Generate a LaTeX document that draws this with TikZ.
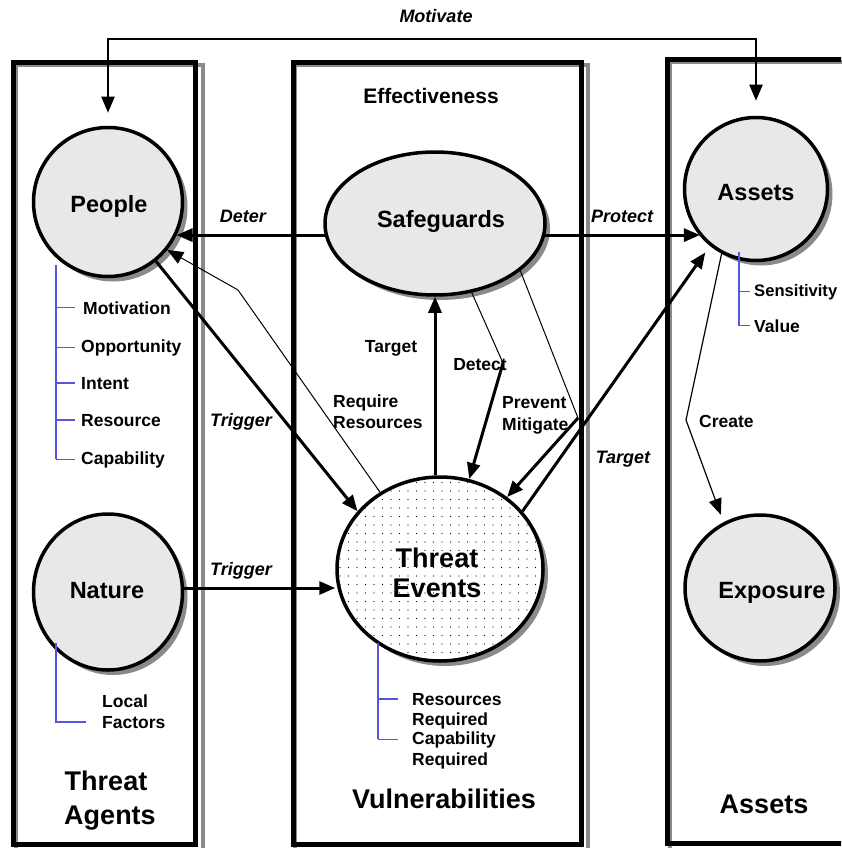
\documentclass[tikz,border=0pt]{standalone}
\usepackage{fontspec}
\setmainfont{Liberation Sans}
\usetikzlibrary{arrows.meta,shapes.geometric,shadows,patterns.meta,backgrounds}
\definecolor{ballgray}{HTML}{E8E8E8}
\definecolor{treeblue}{HTML}{5555E0}
\definecolor{shadegray}{HTML}{8A8A8A}
\begin{document}
\begin{tikzpicture}[x=1pt,y=-1pt,
  colbox/.style={draw=black, line width=5pt, inner sep=0pt},
  boxshade/.style={draw=shadegray, line width=4pt},
  ball/.style={ellipse, draw=black, line width=3.5pt, fill=ballgray, inner sep=0pt,
     drop shadow={shadow xshift=5pt, shadow yshift=-5pt, opacity=1, fill=shadegray}},
  dotball/.style={ellipse, draw=black, line width=3.5pt, fill=white, inner sep=0pt,
     drop shadow={shadow xshift=5pt, shadow yshift=-5pt, opacity=1, fill=shadegray},
     postaction={pattern={Dots[distance=8.5pt,radius=0.6pt]}, pattern color=black}},
  nlab/.style={font=\bfseries\fontsize{23.5}{28}\selectfont, inner sep=0pt, anchor=base},
  blab/.style={font=\bfseries\fontsize{27}{32}\selectfont, inner sep=0pt, anchor=base},
  lab/.style={font=\bfseries\fontsize{17.5}{21}\selectfont, inner sep=0pt},
  ilab/.style={font=\bfseries\itshape\fontsize{18}{21}\selectfont, inner sep=0pt, anchor=base},
  arr/.style={-{Triangle[length=16pt,width=13pt]}},
  heavy/.style={line width=3pt},
  medium/.style={line width=2pt},
  light/.style={line width=1pt},
  tree/.style={draw=treeblue, line width=1.5pt},
]
\clip (0,0) rectangle (841,848);

% columns
\node[colbox, minimum width=182pt, minimum height=781pt] (colL) at (104.5,453.5) {};
\node[colbox, minimum width=288pt, minimum height=781pt] (colM) at (437,453.5) {};
\node[colbox, minimum width=282pt, minimum height=784pt] (colR) at (808.5,451.75) {};

\begin{scope}[on background layer]
  \fill[white] (0,0) rectangle (841,848);
  \foreach \c in {colL,colM,colR}{
    \draw[boxshade] ([shift={(4.5,4.5)}]\c.north west) rectangle ([shift={(4.5,4.5)}]\c.south east);
  }
\end{scope}

% balls
\node[ball, minimum width=149pt, minimum height=149pt] (people) at (108,202) {};
\node[ball, minimum width=220pt, minimum height=143pt] (safe) at (435,223.5) {};
\node[ball, minimum width=143pt, minimum height=143pt] (assets) at (756,189) {};
\node[ball, minimum width=149pt, minimum height=156pt] (nature) at (108,592) {};
\node[ball, minimum width=150pt, minimum height=146pt] (exposure) at (760,588) {};
\node[dotball, minimum width=206pt, minimum height=184pt] (te) at (440,569) {};

% ball labels
\node[nlab] (peopleL) at (109,212) {People};
\node[nlab] (safeL) at (441,227) {Safeguards};
\node[nlab] (assetsL) at (756,200) {Assets};
\node[nlab] (natureL) at (107,598) {Nature};
\node[nlab] (exposureL) at (772,598) {Exposure};
\node[blab] (teL1) at (437,567) {Threat};
\node[blab] (teL2) at (437,597) {Events};

% column titles
\node[blab] (taL1) at (106,790) {Threat};
\node[blab] (taL2) at (110,824) {Agents};
\node[blab] (vulL) at (444,808) {Vulnerabilities};
\node[blab] (asL) at (764,813) {Assets};
\node[font=\bfseries\fontsize{21}{25}\selectfont, inner sep=0pt, anchor=base] (effL) at (431,103) {Effectiveness};

% Motivate
\coordinate (motM) at (432,39);
\draw[medium, arr, shorten >=13pt] (motM) -| (people.north);
\draw[medium, arr, shorten >=15pt] (motM) -| (assets.north);
\node[ilab] (motL) at (436,23) {Motivate};

% Deter / Protect
\draw[heavy, arr] (safe.186) -- (safe.186 -| people.-26);
\node[ilab] (deterL) at (243,222) {Deter};
\draw[heavy, arr] (safe.354) -- (safe.354 -| assets.220);
\node[ilab] (protectL) at (622,222) {Protect};

% Target (to safeguards)
\draw[heavy, arr] (te.north -| safe.south) -- (safe.south);
\node[lab, anchor=base] (targetL) at (391,352) {Target};

% Trigger people -> threat events
\draw[heavy, arr] (people.-51) -- (te.145);
\node[ilab] (trig1L) at (241,426) {Trigger};

% Require resources
\coordinate (rrBend) at (238,290);
\draw[light] (te.128) -- (rrBend);
\draw[light, arr] (rrBend) -- (people.-39);
\node[lab, anchor=base west] (reqL1) at (333,407) {Require};
\node[lab, anchor=base west] (reqL2) at (333,428) {Resources};

% Detect
\coordinate (detBend) at (503,363);
\draw[light] (safe.-62) -- (detBend);
\draw[heavy, arr] (detBend) -- (te.72);
\node[lab, anchor=base] (detectL) at (480,370) {Detect};

% Prevent / Mitigate
\coordinate (prvBend) at (578,418);
\draw[light] (safe.-29) -- (prvBend);
\draw[heavy, arr] (prvBend) -- (te.47);
\node[lab, anchor=base west] (prvL1) at (502,408) {Prevent};
\node[lab, anchor=base west] (prvL2) at (502,430) {Mitigate};

% Target (to assets)
\draw[heavy, arr, shorten >=8pt] (te.35) -- (assets.231);
\node[ilab] (target2L) at (623,463) {Target};

% Trigger nature -> threat events
\draw[heavy, arr] (nature.3) -- (nature.3 -| te.west);
\node[ilab] (trig2L) at (241,575) {Trigger};

% Create
\coordinate (crBend) at (686,420);
\draw[line width=1.2pt] (assets.242) -- (crBend);
\draw[line width=1.2pt, arr, shorten >=8pt] (crBend) -- (exposure.119);
\node[lab, anchor=base west] (createL) at (699,427) {Create};

% People tree
\node[lab, anchor=base west] (tMot) at (83,314) {Motivation};
\node[lab, anchor=base west] (tOpp) at (81,352) {Opportunity};
\node[lab, anchor=base west] (tInt) at (81,389) {Intent};
\node[lab, anchor=base west] (tRes) at (81,426) {Resource};
\node[lab, anchor=base west] (tCap) at (81,464) {Capability};
\coordinate (ptTop) at (56,265);
\draw[tree] (ptTop) -- (ptTop |- tCap.west);
\foreach \n in {tMot,tOpp,tInt,tRes,tCap}{
  \draw[tree] (ptTop |- \n.west) -- ++(19,0);
}

% Assets tree
\node[lab, anchor=base west, font=\bfseries\fontsize{16.6}{20}\selectfont] (tSen) at (754,296) {Sensitivity};
\node[lab, anchor=base west] (tVal) at (754,332) {Value};
\coordinate (atTop) at (739,252);
\draw[tree] (atTop) -- (atTop |- tVal.west);
\foreach \n in {tSen,tVal}{
  \draw[tree] (atTop |- \n.west) -- ++(11,0);
}

% Nature tree
\node[lab, anchor=base west] (tLoc) at (102,707) {Local};
\node[lab, anchor=base west] (tFac) at (102,728) {Factors};
\coordinate (ntTop) at (56,643);
\draw[tree] (ntTop) |- ([xshift=-16pt]tFac.west);

% Threat events tree
\node[lab, anchor=base west] (tRR1) at (412,705) {Resources};
\node[lab, anchor=base west] (tRR2) at (412,725) {Required};
\node[lab, anchor=base west] (tCR1) at (412,744) {Capability};
\node[lab, anchor=base west] (tCR2) at (412,765) {Required};
\coordinate (etTop) at (378,643);
\draw[tree] (etTop) -- (etTop |- tCR1.west);
\foreach \n in {tRR1,tCR1}{
  \draw[tree] (etTop |- \n.west) -- ++(20,0);
}
\end{tikzpicture}
\end{document}
